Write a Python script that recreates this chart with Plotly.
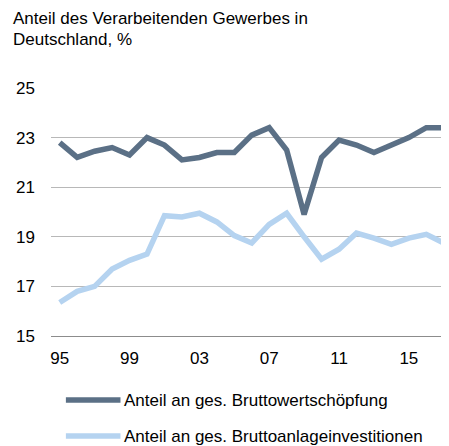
import plotly.graph_objects as go

years = list(range(1995, 2018))
bws = [22.8, 22.2, 22.45, 22.6, 22.3, 23.0, 22.7, 22.1, 22.2, 22.4, 22.4, 23.1, 23.4, 22.5,
       19.9, 22.2, 22.9, 22.7, 22.4, 22.7, 23.0, 23.4, 23.4]
bai = [16.35, 16.8, 17.0, 17.7, 18.05, 18.3, 19.85, 19.8, 19.95, 19.6, 19.05, 18.75, 19.5, 19.95,
       19.0, 18.1, 18.5, 19.15, 18.95, 18.7, 18.95, 19.1, 18.75]
names = ["Anteil an ges. Bruttowertschöpfung", "Anteil an ges. Bruttoanlageinvestitionen"]
colors = ["#5b7086", "#b5d3f0"]
xticks = [1995, 1999, 2003, 2007, 2011, 2015]
xticktext = ["95", "99", "03", "07", "11", "15"]
yticks = [15, 17, 19, 21, 23, 25]
title_lines = ["Anteil des Verarbeitenden Gewerbes in", "Deutschland, %"]

FONT = "Liberation Sans, Arial, sans-serif"
FS = 17
PW, PH = 401, 248
L, T = 40, 80

fig = go.Figure()
for vals, name, col in zip([bws, bai], names, colors):
    fig.add_trace(go.Scatter(x=years, y=vals, mode="lines", name=name,
                             line=dict(color=col, width=5.5), showlegend=False))

fig.update_layout(
    width=449, height=446,
    margin=dict(l=L, r=449 - L - PW, t=T, b=446 - T - PH),
    paper_bgcolor="white", plot_bgcolor="white",
    font=dict(family=FONT, size=FS, color="#000"),
)
fig.update_xaxes(range=[1994.5, 2017.3], tickvals=xticks, ticktext=xticktext,
                 showgrid=False, showline=True, linecolor="#8c8c8c", linewidth=1.3,
                 ticks="", ticklabelstandoff=6, tickfont=dict(size=FS), zeroline=False)
fig.update_yaxes(range=[15, 25], tickvals=yticks, showgrid=True, gridcolor="#b8b8b8",
                 gridwidth=1.3, ticks="", ticklabelstandoff=15, zeroline=False,
                 tickfont=dict(size=FS))

# title (two lines, tight spacing)
for fy, txt in zip([11, 31], title_lines):
    fig.add_annotation(text=txt, xref="paper", yref="paper", x=-L / PW,
                       y=1 + (T - fy) / PH, xanchor="left", yanchor="middle",
                       showarrow=False, font=dict(family=FONT, size=FS, color="#000"))

# manual legend
for fy, name, col in zip([392, 428], names, colors):
    yy = (T + PH - fy) / PH
    fig.add_shape(type="line", xref="paper", yref="paper", x0=(55 - L) / PW,
                  x1=(110 - L) / PW, y0=yy, y1=yy,
                  line=dict(color=col, width=5.5))
    fig.add_annotation(text=name, xref="paper", yref="paper", x=(112 - L) / PW, y=yy,
                       xanchor="left", yanchor="middle", showarrow=False,
                       font=dict(family=FONT, size=FS, color="#000"))

fig.write_html("out.html")
